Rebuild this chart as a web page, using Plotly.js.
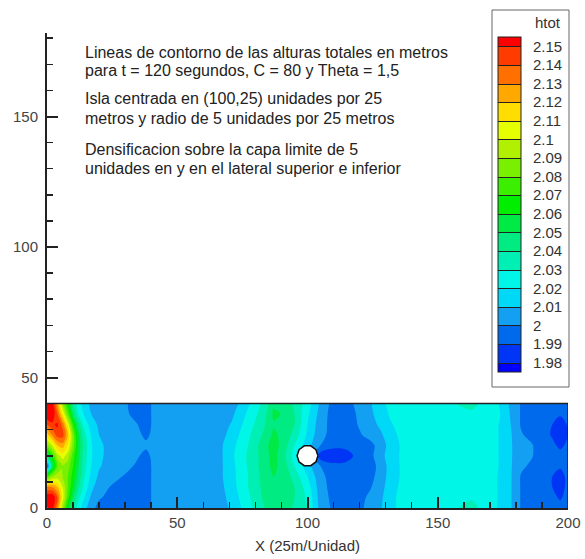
<!DOCTYPE html>
<html><head><meta charset="utf-8">
<script src="https://cdn.plot.ly/plotly-3.0.1.min.js"></script>
<style>html,body{margin:0;padding:0;background:#fff}</style>
</head><body>
<div id="chart" style="width:585px;height:559px"></div>
<script>
// grid coordinates (25 m units)
const xs = [0,2,4,6,8,10,12,14,17,20,25,30,34,38,42,50,60,67,71,75,79,83,87,91,95,100,105,110,115,120,124,128,132,136,145,155,163,170,174,178,182,186,190,194,197,200];
const ys = [0,4,8,12,16,20,24,28,32,36,40];
// htot (m), one row per y value
const htot = [
 [2.148,2.155,2.13,2.09,2.06,2.04,2.025,2.015,2.003,1.997,1.995,1.995,1.995,1.996,2.004,2.005,2.005,2.006,2.012,2.021,2.030,2.039,2.045,2.046,2.038,2.030,2.006,1.998,1.996,1.998,2.003,2.009,2.017,2.023,2.027,2.028,2.033,2.025,2.018,2.011,1.999,1.996,1.994,1.994,1.993,1.995],
 [2.16,2.16,2.14,2.105,2.075,2.05,2.033,2.022,2.008,2.001,1.997,1.995,1.995,1.996,2.004,2.005,2.005,2.007,2.014,2.023,2.032,2.041,2.047,2.047,2.040,2.028,2.005,1.997,1.995,1.997,2.002,2.008,2.017,2.023,2.026,2.027,2.029,2.025,2.018,2.011,1.999,1.996,1.994,1.992,1.989,1.993],
 [2.13,2.13,2.12,2.10,2.08,2.06,2.042,2.028,2.013,2.004,1.999,1.996,1.995,1.996,2.004,2.005,2.005,2.008,2.016,2.025,2.034,2.042,2.048,2.047,2.040,2.025,2.004,1.996,1.995,1.996,1.999,2.006,2.016,2.022,2.026,2.027,2.027,2.025,2.018,2.011,1.999,1.996,1.994,1.990,1.987,1.992],
 [2.075,2.09,2.095,2.09,2.08,2.065,2.048,2.032,2.017,2.008,2.003,1.999,1.996,1.996,2.004,2.005,2.005,2.009,2.017,2.025,2.034,2.043,2.050,2.047,2.036,2.020,2.003,1.995,1.994,1.995,1.997,2.004,2.015,2.021,2.026,2.027,2.027,2.025,2.018,2.011,1.999,1.996,1.994,1.990,1.987,1.992],
 [1.988,2.05,2.08,2.09,2.085,2.07,2.052,2.035,2.020,2.011,2.005,2.003,1.999,1.996,2.004,2.005,2.006,2.009,2.017,2.026,2.035,2.044,2.053,2.045,2.030,2.014,2.000,1.993,1.993,1.994,1.996,2.003,2.015,2.021,2.026,2.027,2.027,2.025,2.019,2.011,2.002,1.998,1.994,1.993,1.991,1.993],
 [2.045,2.07,2.095,2.105,2.095,2.075,2.055,2.037,2.021,2.012,2.006,2.005,2.002,1.997,2.005,2.005,2.006,2.009,2.018,2.027,2.035,2.044,2.054,2.042,2.026,2.010,1.984,1.983,1.986,1.994,1.997,2.006,2.016,2.021,2.026,2.027,2.027,2.025,2.019,2.011,2.004,2.001,1.994,1.994,1.993,1.995],
 [2.085,2.10,2.12,2.125,2.11,2.085,2.058,2.038,2.021,2.012,2.006,2.005,2.004,2.002,2.005,2.005,2.006,2.009,2.017,2.025,2.034,2.045,2.055,2.045,2.030,2.014,2.000,1.993,1.993,1.994,1.997,2.004,2.015,2.021,2.026,2.027,2.027,2.025,2.019,2.011,2.004,2.001,1.994,1.992,1.988,1.992],
 [2.115,2.13,2.145,2.145,2.12,2.085,2.055,2.035,2.019,2.010,2.005,2.004,2.003,1.998,2.004,2.005,2.005,2.007,2.014,2.023,2.032,2.041,2.052,2.047,2.036,2.018,2.003,1.996,1.997,1.999,2.003,2.008,2.017,2.022,2.026,2.027,2.027,2.025,2.019,2.011,2.001,1.997,1.994,1.989,1.985,1.990],
 [2.14,2.148,2.152,2.135,2.105,2.07,2.045,2.028,2.015,2.008,2.005,2.004,2.001,1.996,2.004,2.005,2.005,2.006,2.011,2.020,2.029,2.038,2.049,2.048,2.040,2.020,2.004,1.996,1.995,2.001,2.006,2.012,2.019,2.024,2.026,2.027,2.027,2.025,2.019,2.010,1.999,1.996,1.994,1.990,1.986,1.991],
 [2.16,2.158,2.14,2.11,2.08,2.05,2.03,2.02,2.010,2.006,2.004,2.002,1.997,1.996,2.004,2.005,2.005,2.005,2.008,2.017,2.026,2.035,2.052,2.049,2.040,2.022,2.006,1.995,1.995,2.002,2.008,2.014,2.022,2.025,2.026,2.027,2.028,2.025,2.020,2.009,1.999,1.996,1.994,1.993,1.991,1.993],
 [2.155,2.156,2.125,2.09,2.065,2.04,2.025,2.015,2.008,2.005,2.004,2.001,1.997,1.996,2.004,2.005,2.005,2.004,2.005,2.013,2.023,2.032,2.048,2.046,2.038,2.025,2.008,1.996,1.997,2.003,2.009,2.016,2.024,2.026,2.027,2.029,2.033,2.025,2.019,2.008,1.999,1.996,1.994,1.995,1.994,1.995]
];
// contour levels and legend labels
const levelLabels = ['1.98','1.99','2','2.01','2.02','2.03','2.04','2.05','2.06','2.07','2.08','2.09','2.1','2.11','2.12','2.13','2.14','2.15'];
const levelStep = 0.01;
// band colours from lowest (< 1.98) to highest (> 2.15)
const bandColors = ['#0000ff','#0035f5','#006aec','#14a0f2','#00d8f8','#00f6e6','#00efb4','#00ec82','#00ea46','#00ee00','#3cef00','#78f000','#b0f000','#e6ff00','#ffdd00','#ffa800','#ff7000','#ff3c00','#ff0000'];
// island
const island = {cx: 100, cy: 20, r: 4};
// annotation text lines
const noteLines = [
  'Lineas de contorno de las alturas totales en metros',
  'para t = 120 segundos, C = 80 y Theta = 1,5',
  'Isla centrada en (100,25) unidades por 25',
  'metros y radio de 5 unidades por 25 metros',
  'Densificacion sobre la capa limite de 5',
  'unidades en y en el lateral superior e inferior'
];
const xTitle = 'X (25m/Unidad)';
const legendTitle = 'htot';

const FONT = 'Liberation Sans, Arial, sans-serif';
const W = 585, H = 559, M = {l:47, r:17, t:33, b:51};
const pw = W - M.l - M.r, ph = H - M.t - M.b;
const px2paperX = p => (p - M.l) / pw;
const px2paperY = p => (H - M.b - p) / ph;

const levelValues = levelLabels.map(Number);
const lo = levelValues[0], hi = levelValues[levelValues.length-1];
const colorscale = bandColors.map((c,i)=>[i/(bandColors.length-1), c]);
const contours = {coloring:'fill', start: lo, end: hi, size: levelStep, showlines:false};

const field = {
  type:'contour', x: xs, y: ys, z: htot, autocontour:false,
  contours: contours, colorscale: colorscale, showscale:false,
  line:{width:0}, hoverinfo:'skip'
};
const legendTrace = {
  type:'contour', x: xs, y: ys, z: htot, autocontour:false, opacity:0,
  zauto:false, zmin: lo - levelStep/2, zmax: hi + levelStep/2,
  contours: Object.assign({}, contours, {showlines:true}),
  colorscale: colorscale, line:{color:'#222', width:1}, hoverinfo:'skip',
  colorbar:{
    x:px2paperX(498), xanchor:'left', y:px2paperY(37), yanchor:'top',
    len:335, lenmode:'pixels', thickness:23, thicknessmode:'pixels',
    xpad:0, ypad:0, bgcolor:'rgba(0,0,0,0)', borderwidth:0,
    outlinecolor:'#222', outlinewidth:1,
    tickvals: levelValues, ticktext: levelLabels,
    ticks:'outside', ticklen:9, tickcolor:'rgba(0,0,0,0)',
    tickfont:{family:FONT, size:15, color:'#333'}
  }
};
// island polygon
const nSides = 10, ix = [], iy = [];
for (let k=0;k<=nSides;k++){ const a = 2*Math.PI*k/nSides; ix.push(island.cx + island.r*Math.cos(a)); iy.push(island.cy + island.r*Math.sin(a)); }
const islandTrace = {type:'scatter', mode:'lines', x:ix, y:iy, fill:'toself', fillcolor:'#fff', line:{color:'#111', width:1.5}, hoverinfo:'skip', showlegend:false};
// domain boundary (top and right edges)
const xEnd = xs[xs.length-1], yEnd = ys[ys.length-1];
const boundary = {type:'scatter', mode:'lines', x:[xs[0], xEnd, xEnd], y:[yEnd, yEnd, ys[0]], line:{color:'#222', width:1.5}, hoverinfo:'skip', showlegend:false};

const axisCommon = {showgrid:false, zeroline:false, showline:true, linecolor:'#222', linewidth:2,
  ticks:'inside', ticklen:11, tickwidth:2, tickcolor:'#222',
  minor:{ticks:'inside', ticklen:6, tickwidth:1.5, tickcolor:'#222', dtick:10},
  tickfont:{family:FONT, size:15, color:'#444'}};

const noteY = [52, 71, 99, 118, 149, 168];
const annotations = noteLines.map((t,i)=>({text:t, xref:'paper', yref:'paper', x:px2paperX(83), y:px2paperY(noteY[i]),
    xanchor:'left', yanchor:'middle', align:'left', showarrow:false, font:{family:FONT, size:16, color:'#222'}}));
annotations.push({text:legendTitle, xref:'paper', yref:'paper', x:px2paperX(548), y:px2paperY(23),
    xanchor:'center', yanchor:'middle', showarrow:false, font:{family:FONT, size:15, color:'#333'}});

const layout = {
  width:W, height:H, paper_bgcolor:'#fff', plot_bgcolor:'#fff',
  margin:M, showlegend:false,
  xaxis: Object.assign({}, axisCommon, {range:[0,200], dtick:50, tick0:0,
    title:{text:xTitle, font:{family:FONT, size:15, color:'#333'}, standoff:10}}),
  yaxis: Object.assign({}, axisCommon, {range:[0,182], dtick:50, tick0:0, ticklabelstandoff:4}),
  annotations: annotations,
  shapes:[{type:'rect', xref:'paper', yref:'paper', x0:px2paperX(492), x1:px2paperX(569), y0:px2paperY(387), y1:px2paperY(10),
    line:{color:'#666', width:1}, fillcolor:'rgba(0,0,0,0)', layer:'below'}]
};
Plotly.newPlot('chart', [field, legendTrace, boundary, islandTrace], layout, {displayModeBar:false, staticPlot:true});
</script>
</body></html>
